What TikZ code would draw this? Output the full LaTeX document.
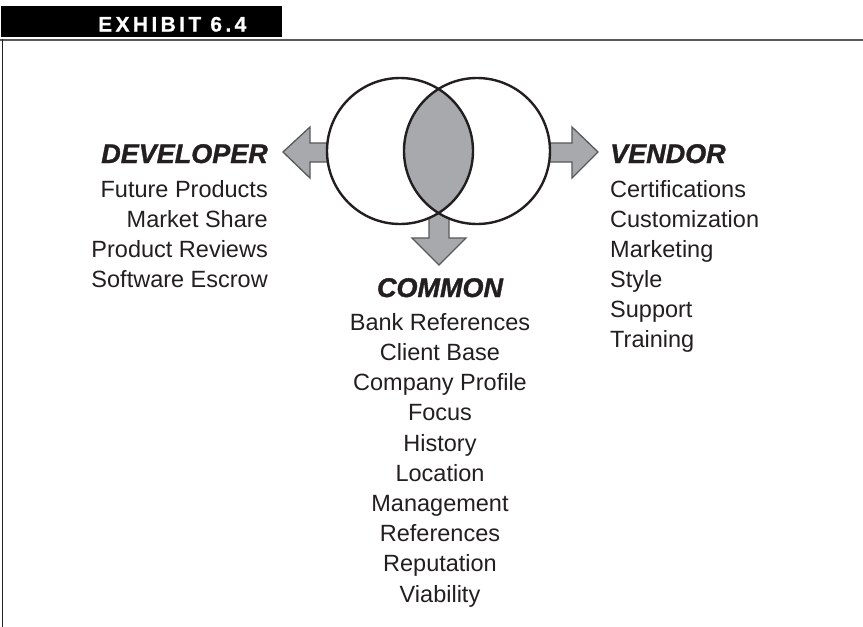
\documentclass[tikz,border=0pt]{standalone}
\usepackage{fontspec}
\setmainfont{Liberation Sans}
\definecolor{ink}{HTML}{231F20}
\definecolor{venngray}{HTML}{A7A9AC}
\definecolor{edgegray}{HTML}{58595B}
\begin{document}
\begin{tikzpicture}[x=1pt,y=-1pt,
  head/.style={font=\fontsize{27}{30}\selectfont\bfseries\itshape\addfontfeatures{FakeBold=1.2}, text=ink, inner sep=0pt},
  item/.style={font=\fontsize{23.5}{28}\selectfont, text=ink, inner sep=0pt},
  blockarrow/.style={fill=venngray, draw=edgegray, line width=1.3pt, line join=miter},
  ring/.style={circle, draw=ink, line width=2.4pt, minimum size=146pt, inner sep=0pt}]
\useasboundingbox (0,0) rectangle (863,627);
\fill[white] (0,0) rectangle (863,627);
% header
\node[fill=black, minimum width=281pt, minimum height=31pt, anchor=north west, inner sep=0pt] (hdr) at (1,6) {};
\node[anchor=base west, inner sep=0pt, text=white,
      font=\fontsize{21}{24}\selectfont\bfseries\addfontfeatures{LetterSpace=16,FakeBold=0.8}] (hdrtext) at (98,31.5) {EXHIBIT 6.4};
\draw[edgegray, line width=2.2pt] (0,40) -- (863,40);
\draw[ink, line width=1pt] (2.5,39) -- (2.5,627);
% block arrows
\draw[blockarrow] (283,152) -- (310,127) -- (310,143) -- (340,143) -- (340,162) -- (310,162) -- (310,178) -- cycle;
\draw[blockarrow] (598,152) -- (572,127) -- (572,143) -- (540,143) -- (540,162) -- (572,162) -- (572,178) -- cycle;
\draw[blockarrow] (439,265) -- (412,238) -- (429,238) -- (429,200) -- (449,200) -- (449,238) -- (466,238) -- cycle;
% circles
\fill[white] (400,151) circle (73pt);
\fill[white] (477,151) circle (73pt);
\begin{scope}
  \clip (400,151) circle (73pt);
  \fill[venngray] (477,151) circle (73pt);
\end{scope}
\node[ring] (left) at (400,151) {};
\node[ring] (right) at (477,151) {};
% headings
\node[head, anchor=base east] (dev) at (268,163) {DEVELOPER};
\node[head, anchor=base west] (ven) at (610,163) {VENDOR};
\node[head, anchor=base] (com) at (440,297) {COMMON};
% lists
\foreach \t [count=\i] in {Future Products, Market Share, Product Reviews, Software Escrow}
  \node[item, anchor=base east] (dev\i) at (268,167+30*\i) {\t};
\foreach \t [count=\i] in {Certifications, Customization, Marketing, Style, Support, Training}
  \node[item, anchor=base west] (ven\i) at (610,167+30*\i) {\t};
\foreach \t [count=\i] in {Bank References, Client Base, Company Profile, Focus, History, Location, Management, References, Reputation, Viability}
  \node[item, anchor=base] (com\i) at (440,300+30.2*\i) {\t};
\end{tikzpicture}
\end{document}
